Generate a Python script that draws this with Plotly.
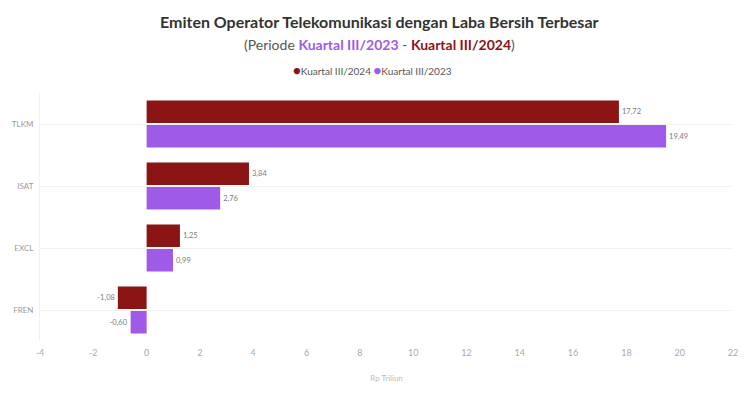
import plotly.graph_objects as go

categories = ["TLKM", "ISAT", "EXCL", "FREN"]
values_2024 = [17.72, 3.84, 1.25, -1.08]
values_2023 = [19.49, 2.76, 0.99, -0.60]
series_names = ["Kuartal III/2024", "Kuartal III/2023"]
x_ticks = list(range(-4, 23, 2))

RED = "#8b1414"
PURPLE = "#a05ae8"

def fmt(v):
    return f"{v:.2f}".replace(".", ",")

fig = go.Figure()
for name, vals, col in [(series_names[0], values_2024, RED), (series_names[1], values_2023, PURPLE)]:
    fig.add_trace(go.Bar(
        y=categories, x=vals, orientation="h", name=name,
        marker=dict(color=col, line=dict(width=0)),
        text=[fmt(v) for v in vals], textposition="outside",
        textfont=dict(size=7.5, color="#7a7a7a"),
        cliponaxis=False, showlegend=False,
    ))

legend_text = (f"<span style='color:{RED};font-size:13px'>●</span>{series_names[0]} "
               f"<span style='color:{PURPLE};font-size:13px'>●</span>{series_names[1]}")

title_text = "<b>Emiten Operator Telekomunikasi dengan Laba Bersih Terbesar</b>"
subtitle_text = ("(Periode "
                 f"<b><span style='color:{PURPLE}'>Kuartal III/2023</span></b> - "
                 f"<b><span style='color:{RED}'>Kuartal III/2024</span></b>)")

fig.update_layout(
    width=750, height=400,
    paper_bgcolor="white", plot_bgcolor="white",
    margin=dict(l=40, r=17, t=93, b=59, autoexpand=False),
    barmode="group", bargap=0.21, bargroupgap=0.08,
    font=dict(family="Lato, 'Open Sans', sans-serif", color="#555555"),
    showlegend=False,
    annotations=[
        dict(text=title_text, xref="paper", yref="paper", x=0.49, y=(341 - 22) / 248,
             xanchor="center", yanchor="middle", showarrow=False,
             font=dict(size=16, color="#333333")),
        dict(text=subtitle_text, xref="paper", yref="paper", x=0.49, y=(341 - 44) / 248,
             xanchor="center", yanchor="middle", showarrow=False,
             font=dict(size=14, color="#555555")),
        dict(text=legend_text, xref="paper", yref="paper", x=0.48, y=(341 - 70) / 248,
             xanchor="center", yanchor="middle", showarrow=False,
             font=dict(size=10, color="#555555")),
    ],
    xaxis=dict(range=[-4, 22], tickvals=x_ticks, ticktext=[str(t) for t in x_ticks],
               showgrid=False, zeroline=False, showline=False, automargin=False,
               tickfont=dict(size=9, color="#aaaaaa"), ticklabelstandoff=5,
               title=dict(text="Rp Triliun", font=dict(size=8, color="#bbbbbb"), standoff=18)),
    yaxis=dict(autorange="reversed", showgrid=True, gridcolor="#f2f2f2", automargin=False,
               zeroline=False, showline=True, linecolor="#f0f0f0",
               tickfont=dict(size=8, color="#999999"), ticks="", ticklabelstandoff=4),
)

fig.write_html("out.html", config={"displayModeBar": False},
               post_script="document.body.style.margin='0';")
